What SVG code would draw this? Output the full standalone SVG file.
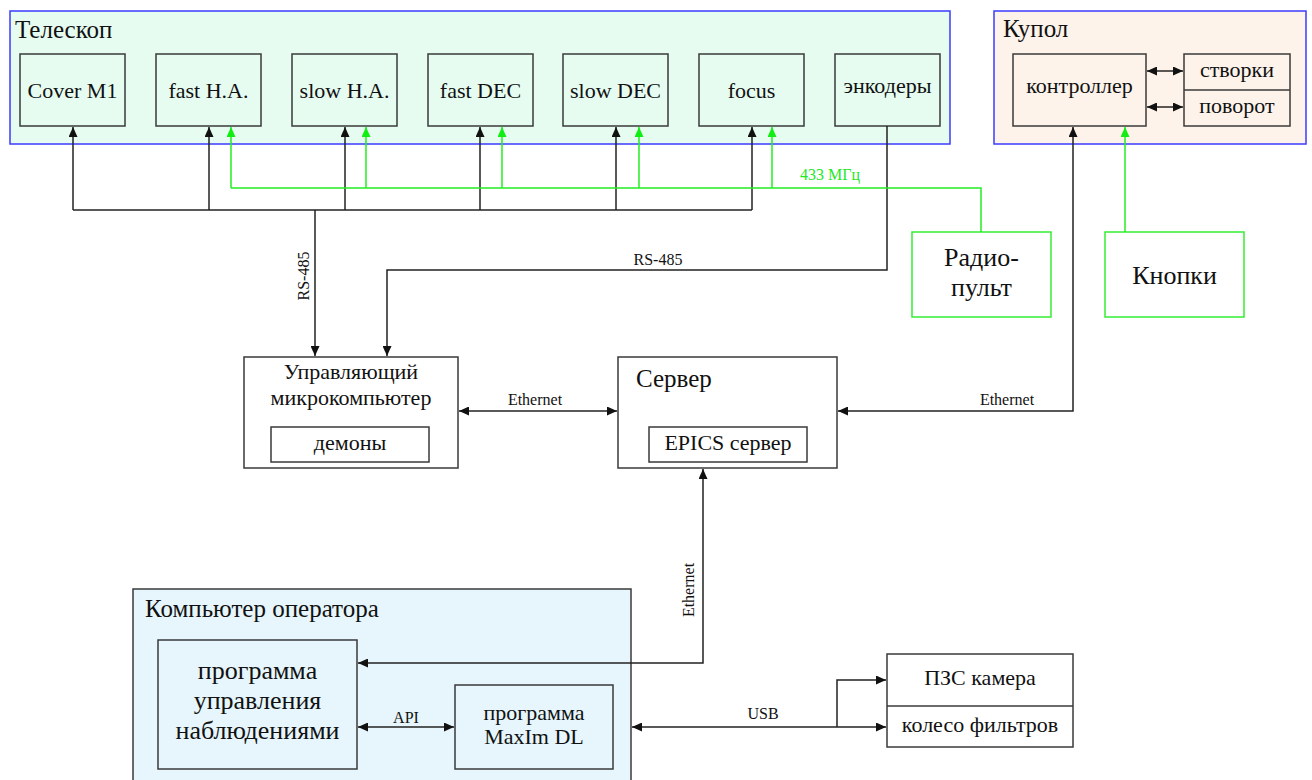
<svg xmlns="http://www.w3.org/2000/svg" width="1312" height="780" viewBox="0 0 1312 780" font-family="'Liberation Serif','Times New Roman',serif">
<defs>
<style>
text{font-family:"Liberation Serif","Times New Roman",serif;fill:#111;}
.t{font-size:22px;text-anchor:middle;}
.title{font-size:25px;}
.big{font-size:26px;text-anchor:middle;}
.lbl{font-size:16px;text-anchor:middle;}
.lbl16{font-size:16px;text-anchor:middle;}
.g{fill:#1ee81e;}
.box{fill:#e6fcf1;stroke:#3a3a3a;stroke-width:1.5;}
.wbox{fill:#ffffff;stroke:#3a3a3a;stroke-width:1.5;}
.pbox{fill:#fdf3ea;stroke:#3a3a3a;stroke-width:1.5;}
.bbox{fill:#e6f6fc;stroke:#3a3a3a;stroke-width:1.5;}
.gbox{fill:#ffffff;stroke:#33ee33;stroke-width:1.5;}
.cont{stroke:#3b3bff;stroke-width:1.5;}
.k{fill:none;stroke:#222;stroke-width:1.5;}
.gl{fill:none;stroke:#22ee22;stroke-width:1.5;}
</style>
<marker id="ak" markerWidth="11" markerHeight="9" refX="10" refY="4.5" orient="auto-start-reverse" markerUnits="userSpaceOnUse"><path d="M0,0 L10,4.5 L0,9 z" fill="#111"/></marker>
<marker id="ag" markerWidth="11" markerHeight="9" refX="10" refY="4.5" orient="auto-start-reverse" markerUnits="userSpaceOnUse"><path d="M0,0 L10,4.5 L0,9 z" fill="#11ee11"/></marker>
</defs>
<rect width="1312" height="780" fill="#ffffff"/>

<g id="telescope">
<rect x="10" y="11" width="940" height="133" fill="#e6fcf1" class="cont"/>
<text x="15" y="38" class="title">Телескоп</text>
</g>
<g id="cover-m1"><rect x="20" y="54" width="105" height="72" class="box"/><text x="72.5" y="98" class="t">Cover M1</text></g>
<g id="fast-ha"><rect x="156" y="54" width="105" height="72" class="box"/><text x="208.5" y="98" class="t">fast H.A.</text></g>
<g id="slow-ha"><rect x="292" y="54" width="105" height="72" class="box"/><text x="344.5" y="98" class="t">slow H.A.</text></g>
<g id="fast-dec"><rect x="428" y="54" width="105" height="72" class="box"/><text x="480.5" y="98" class="t">fast DEC</text></g>
<g id="slow-dec"><rect x="563" y="54" width="105" height="72" class="box"/><text x="615.5" y="98" class="t">slow DEC</text></g>
<g id="focus"><rect x="699" y="54" width="105" height="72" class="box"/><text x="751.5" y="98" class="t">focus</text></g>
<g id="encoders"><rect x="835" y="54" width="105" height="72" class="box"/><text x="887.5" y="93" class="t">энкодеры</text></g>

<g id="dome">
<rect x="994" y="11" width="312" height="133" fill="#fdf3ea" class="cont"/>
<text x="1003" y="37" class="title">Купол</text>
</g>
<g id="controller"><rect x="1013" y="54" width="133" height="72" class="pbox"/><text x="1079.5" y="93" class="t">контроллер</text></g>
<g id="shutters-rotation">
<rect x="1184" y="54" width="106" height="72" class="pbox"/>
<line x1="1184" y1="90" x2="1290" y2="90" stroke="#3a3a3a" stroke-width="1.5"/>
<text x="1237" y="77" class="t">створки</text>
<text x="1237" y="113" class="t">поворот</text>
</g>

<g id="radio"><rect x="912" y="232" width="139" height="85" class="gbox"/><text x="981.5" y="266" class="big">Радио-</text><text x="981.5" y="296" class="big">пульт</text></g>
<g id="buttons"><rect x="1105" y="232" width="139" height="85" class="gbox"/><text x="1174.5" y="284" class="big">Кнопки</text></g>

<g id="microcomputer">
<rect x="244" y="357" width="214" height="111" class="wbox"/>
<text x="351" y="379" class="t">Управляющий</text>
<text x="351" y="405" class="t">микрокомпьютер</text>
<rect x="271" y="427" width="158" height="35" class="wbox"/>
<text x="350" y="450" class="t">демоны</text>
</g>
<g id="server">
<rect x="618" y="357" width="219" height="111" class="wbox"/>
<text x="636" y="387" style="font-size:25px">Сервер</text>
<rect x="649" y="427" width="158" height="35" class="wbox"/>
<text x="728" y="450" class="t">EPICS сервер</text>
</g>

<g id="operator">
<rect x="133" y="589" width="498" height="200" class="bbox" stroke="#666"/>
<text x="145" y="617" class="title">Компьютер оператора</text>
</g>
<g id="obs-program"><rect x="158" y="640" width="199" height="129" class="bbox"/>
<text x="257.5" y="679" class="big">программа</text><text x="257.5" y="709" class="big">управления</text><text x="257.5" y="739" class="big">наблюдениями</text></g>
<g id="maxim"><rect x="455" y="685" width="158" height="84" class="bbox"/>
<text x="534" y="720" class="t">программа</text><text x="534" y="744" class="t">MaxIm DL</text></g>

<g id="ccd">
<rect x="887" y="654" width="186" height="93" class="wbox"/>
<line x1="887" y1="706" x2="1073" y2="706" stroke="#3a3a3a" stroke-width="1.5"/>
<text x="980" y="685" class="t">ПЗС камера</text>
<text x="980" y="732" class="t">колесо фильтров</text>
</g>

<g id="connectors">
<polyline class="k" points="73,210 752,210"/>
<line class="k" x1="73" y1="210" x2="73" y2="127" marker-end="url(#ak)"/>
<line class="k" x1="209" y1="210" x2="209" y2="127" marker-end="url(#ak)"/>
<line class="k" x1="345" y1="210" x2="345" y2="127" marker-end="url(#ak)"/>
<line class="k" x1="480" y1="210" x2="480" y2="127" marker-end="url(#ak)"/>
<line class="k" x1="616" y1="210" x2="616" y2="127" marker-end="url(#ak)"/>
<line class="k" x1="752" y1="210" x2="752" y2="127" marker-end="url(#ak)"/>
<line class="k" x1="315" y1="210" x2="315" y2="356" marker-end="url(#ak)"/>
<text transform="translate(309,276) rotate(-90)" class="lbl">RS-485</text>
<polyline class="k" points="887,126 887,270 387,270 387,356" marker-end="url(#ak)"/>
<text x="658" y="265" class="lbl">RS-485</text>
<polyline class="gl" points="981,232 981,188 231,188"/>
<line class="gl" x1="231" y1="188" x2="231" y2="127" marker-end="url(#ag)"/>
<line class="gl" x1="366" y1="188" x2="366" y2="127" marker-end="url(#ag)"/>
<line class="gl" x1="502" y1="188" x2="502" y2="127" marker-end="url(#ag)"/>
<line class="gl" x1="639" y1="188" x2="639" y2="127" marker-end="url(#ag)"/>
<line class="gl" x1="772" y1="188" x2="772" y2="127" marker-end="url(#ag)"/>
<text x="830" y="180" class="lbl16 g">433 МГц</text>
<line class="gl" x1="1125" y1="232" x2="1125" y2="127" marker-end="url(#ag)"/>
<line class="k" x1="1147" y1="71" x2="1183" y2="71" marker-start="url(#ak)" marker-end="url(#ak)"/>
<line class="k" x1="1147" y1="107" x2="1183" y2="107" marker-start="url(#ak)" marker-end="url(#ak)"/>
<line class="k" x1="459" y1="411" x2="617" y2="411" marker-start="url(#ak)" marker-end="url(#ak)"/>
<text x="535" y="405" class="lbl">Ethernet</text>
<polyline class="k" points="838,411 1073,411 1073,127" marker-start="url(#ak)" marker-end="url(#ak)"/>
<text x="1007" y="405" class="lbl">Ethernet</text>
<polyline class="k" points="703,469 703,663 358,663" marker-start="url(#ak)" marker-end="url(#ak)"/>
<text transform="translate(694,590) rotate(-90)" class="lbl">Ethernet</text>
<line class="k" x1="358" y1="727" x2="454" y2="727" marker-start="url(#ak)" marker-end="url(#ak)"/>
<text x="406" y="723" class="lbl16">API</text>
<line class="k" x1="632" y1="727" x2="886" y2="727" marker-start="url(#ak)" marker-end="url(#ak)"/>
<polyline class="k" points="837,727 837,680 886,680" marker-end="url(#ak)"/>
<text x="763" y="719" class="lbl16">USB</text>
</g>
</svg>
